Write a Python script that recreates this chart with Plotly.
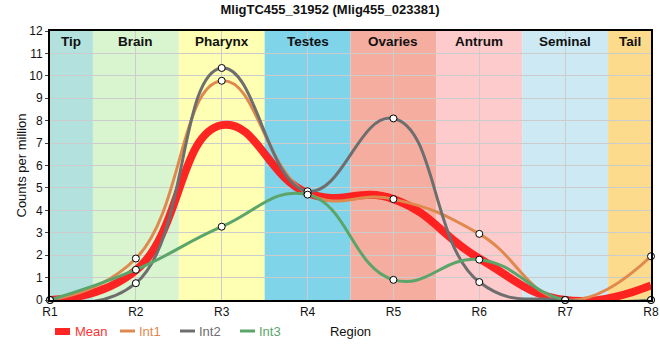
import plotly.graph_objects as go

regions = ["R1", "R2", "R3", "R4", "R5", "R6", "R7", "R8"]
x_pos = [1, 2, 3, 4, 5, 6, 7, 8]
mean_vals = [0, 1.32, 7.8, 4.77, 4.5, 1.85, 0, 0.65]
int1_vals = [0, 1.85, 9.78, 4.75, 4.5, 2.95, 0, 1.95]
int2_vals = [0, 0.75, 10.35, 4.85, 8.1, 0.8, 0, 0]
int3_vals = [0, 1.35, 3.27, 4.7, 0.9, 1.8, 0, 0]

band_names = ["Tip", "Brain", "Pharynx", "Testes", "Ovaries", "Antrum", "Seminal", "Tail"]
band_start = [1, 1.5, 2.5, 3.5, 4.5, 5.5, 6.5, 7.5]
band_end = [1.5, 2.5, 3.5, 4.5, 5.5, 6.5, 7.5, 8]
band_colors = ["#b3e2de", "#d8f5d0", "#ffffb4", "#7fd4ea", "#f5ad9f", "#fdcbcb", "#cdeaf4", "#fddb8d"]

series_names = ["Mean", "Int1", "Int2", "Int3"]
series_colors = ["rgba(255,25,25,0.95)", "#e0894f", "#6e6e6e", "#5ba56b"]
legend_text_colors = ["#ff3333", "#e0894f", "#6e6e6e", "#5ba56b"]

FONT = "Liberation Sans, Arial, sans-serif"
SMOOTH = 1.3

fig = go.Figure()

fig.add_trace(go.Scatter(
    x=x_pos, y=mean_vals, mode="lines", name="Mean",
    line=dict(color=series_colors[0], width=8, shape="spline", smoothing=SMOOTH),
    showlegend=False))

for vals, name, col in zip([int1_vals, int2_vals, int3_vals], series_names[1:], series_colors[1:]):
    fig.add_trace(go.Scatter(
        x=x_pos, y=vals, mode="lines", name=name,
        line=dict(color=col, width=3, shape="spline", smoothing=SMOOTH),
        showlegend=False))

for vals, name in zip([int1_vals, int2_vals, int3_vals], series_names[1:]):
    fig.add_trace(go.Scatter(
        x=x_pos, y=vals, mode="markers", name=name + " points",
        marker=dict(size=7, color="white", line=dict(color="black", width=1)),
        showlegend=False, cliponaxis=False))

shapes = []
annotations = []
for nm, s, e, c in zip(band_names, band_start, band_end, band_colors):
    shapes.append(dict(type="rect", xref="x", yref="paper", x0=s, x1=e, y0=0, y1=1,
                       fillcolor=c, line=dict(width=0), layer="below"))
    annotations.append(dict(text="<b>" + nm + "</b>", x=(s + e) / 2, xref="x", y=1, yref="paper",
                            yanchor="top", xanchor="center", showarrow=False, yshift=-1,
                            font=dict(family=FONT, size=13.5, color="#111")))


def px_x(p):
    return (p - 50) / 601.0


def px_y(p):
    return (300 - p) / 269.0


ly = 331
shapes.append(dict(type="rect", xref="paper", yref="paper", x0=px_x(55), x1=px_x(70),
                   y0=px_y(335), y1=px_y(328), fillcolor="rgba(255,25,25,0.95)", line=dict(width=0)))
line_starts = [120, 180, 240]
for st, col in zip(line_starts, series_colors[1:]):
    shapes.append(dict(type="line", xref="paper", yref="paper", x0=px_x(st), x1=px_x(st + 15),
                       y0=px_y(ly), y1=px_y(ly), line=dict(color=col, width=3)))
text_starts = [73, 137, 197, 257]
for st, nm, col in zip(text_starts, series_names, legend_text_colors):
    annotations.append(dict(text=nm, x=px_x(st), xref="paper", y=px_y(ly), yref="paper",
                            xanchor="left", yanchor="middle", showarrow=False,
                            font=dict(family=FONT, size=13, color=col)))

# y-axis title placed precisely
annotations.append(dict(text="Counts per million", x=px_x(21), xref="paper", y=0.5, yref="paper",
                        xanchor="center", yanchor="middle", textangle=-90, showarrow=False,
                        font=dict(family=FONT, size=13, color="#111")))

fig.update_layout(
    width=660, height=360,
    margin=dict(l=50, r=9, t=31, b=60),
    paper_bgcolor="white", plot_bgcolor="white",
    title=dict(text="<b>MligTC455_31952 (Mlig455_023381)</b>", x=0.5, xanchor="center",
               y=1 - 9 / 360, yanchor="middle", font=dict(family=FONT, size=13, color="#111")),
    font=dict(family=FONT, size=12, color="#111"),
    showlegend=False,
    shapes=shapes, annotations=annotations,
    xaxis=dict(range=[1, 8], tickmode="array", tickvals=x_pos, ticktext=regions,
               showgrid=True, gridcolor="#cccccc", gridwidth=1, zeroline=False,
               showline=True, linecolor="black", linewidth=2, mirror=True, automargin=False,
               ticks="", tickfont=dict(family=FONT, size=12, color="#111"),
               title=dict(text="Region", font=dict(family=FONT, size=13, color="#111"), standoff=8)),
    yaxis=dict(range=[0, 12], dtick=1, showgrid=True, gridcolor="#cccccc", gridwidth=1,
               zeroline=False, showline=True, linecolor="black", linewidth=2, mirror=True,
               automargin=False,
               ticks="outside", ticklen=3, tickcolor="#444",
               tickfont=dict(family=FONT, size=12, color="#111")),
)

fig.write_html("out.html", config={"displayModeBar": False},
               post_script="document.body.style.margin='0px';")
